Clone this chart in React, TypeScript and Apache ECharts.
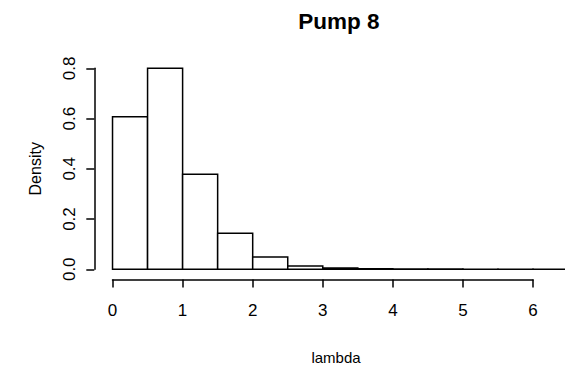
import React, { useEffect, useRef } from "react";
import * as echarts from "echarts";

// Histogram data (bin edges and density per bin)
const breaks = [0, 0.5, 1, 1.5, 2, 2.5, 3, 3.5, 4, 4.5, 5, 5.5, 6, 6.5];
const density = [0.607, 0.8, 0.378, 0.143, 0.049, 0.013, 0.005, 0.002, 0.001, 0.0006, 0.0003, 0.0002, 0.0001];
const xTicks = [0, 1, 2, 3, 4, 5, 6];
const yTicks = [0, 0.2, 0.4, 0.6, 0.8];
const titleText = "Pump 8";
const xLabel = "lambda";
const yLabel = "Density";

const FONT = "'Liberation Sans', Arial, Helvetica, sans-serif";

export default function App() {
  const ref = useRef<HTMLDivElement>(null);
  useEffect(() => {
    document.body.style.margin = "0";
    if (!ref.current) return;
    const chart = echarts.init(ref.current, null, { renderer: "svg" });

    const W = 565;
    // R-style plot region (extends past the right edge of the figure)
    const plotLeft = 94.3;
    const plotTop = 60.3;
    const plotWidth = 492;
    const plotHeight = 217;
    const xMin = breaks[0];
    const xMax = breaks[breaks.length - 1];
    const yMin = 0;
    const yMax = yTicks[yTicks.length - 1];
    const xPad = 0.04 * (xMax - xMin);
    const yPad = 0.04 * (yMax - yMin);
    const xLo = xMin - xPad;
    const xHi = xMax + xPad;
    const yLo = yMin - yPad;
    const yHi = yMax + yPad;
    const pxX = plotWidth / (xHi - xLo);
    const pxY = plotHeight / (yHi - yLo);
    // visible part of the plot region
    const visWidth = W - plotLeft;
    const xVisHi = xLo + visWidth / pxX;
    const x0px = plotLeft + (xTicks[0] - xLo) * pxX;
    const y0px = plotTop + (yHi - yTicks[0]) * pxY;
    const xAxisLineY = 279.5;

    const bins = density.map((d, i) => [breaks[i], breaks[i + 1], d]);

    const axisLabelStyle = { color: "#000", fontSize: 17, fontFamily: FONT };
    const lw = 1.5;

    chart.setOption({
      animation: false,
      grid: [
        { left: plotLeft, top: plotTop, width: visWidth, height: plotHeight },
        {
          left: x0px,
          top: 60,
          width: (xTicks[xTicks.length - 1] - xTicks[0]) * pxX,
          height: xAxisLineY - 60,
        },
        {
          left: plotLeft,
          top: y0px - (yTicks[yTicks.length - 1] - yTicks[0]) * pxY,
          width: 100,
          height: (yTicks[yTicks.length - 1] - yTicks[0]) * pxY,
        },
      ],
      xAxis: [
        { type: "value", gridIndex: 0, min: xLo, max: xVisHi, show: false },
        {
          type: "value",
          gridIndex: 1,
          min: xTicks[0],
          max: xTicks[xTicks.length - 1],
          interval: 1,
          axisLine: { show: true, lineStyle: { color: "#000", width: lw } },
          axisTick: { show: true, length: 8, lineStyle: { color: "#000", width: lw } },
          axisLabel: { ...axisLabelStyle, margin: 22 },
          splitLine: { show: false },
        },
        { type: "value", gridIndex: 2, min: 0, max: 1, show: false },
      ],
      yAxis: [
        { type: "value", gridIndex: 0, min: yLo, max: yHi, show: false },
        { type: "value", gridIndex: 1, min: 0, max: 1, show: false },
        {
          type: "value",
          gridIndex: 2,
          min: yTicks[0],
          max: yTicks[yTicks.length - 1],
          interval: 0.2,
          axisLine: { show: true, lineStyle: { color: "#000", width: lw } },
          axisTick: { show: true, length: 8, lineStyle: { color: "#000", width: lw } },
          axisLabel: {
            ...axisLabelStyle,
            rotate: 90,
            margin: 16,
            formatter: (v: number) => v.toFixed(1),
          },
          splitLine: { show: false },
        },
      ],
      series: [
        {
          type: "custom",
          xAxisIndex: 0,
          yAxisIndex: 0,
          data: bins,
          encode: { x: [0, 1], y: 2 },
          renderItem: (params: any, api: any) => {
            const a = api.value(0);
            const b = api.value(1);
            const v = api.value(2);
            const p0 = api.coord([a, v]);
            const p1 = api.coord([b, 0]);
            return {
              type: "rect",
              shape: { x: p0[0], y: p0[1], width: p1[0] - p0[0], height: p1[1] - p0[1] },
              style: { fill: "#fff", stroke: "#000", lineWidth: lw },
            };
          },
        },
      ],
      graphic: [
        {
          type: "text",
          x: 339,
          y: 21,
          style: {
            text: titleText,
            font: `bold 22.5px ${FONT}`,
            fill: "#000",
            align: "center",
            verticalAlign: "middle",
          },
        },
        {
          type: "text",
          x: 336,
          y: 357,
          style: {
            text: xLabel,
            font: `15px ${FONT}`,
            fill: "#000",
            align: "center",
            verticalAlign: "middle",
          },
        },
        {
          type: "text",
          x: 35,
          y: plotTop + plotHeight / 2,
          rotation: Math.PI / 2,
          style: {
            text: yLabel,
            font: `16px ${FONT}`,
            fill: "#000",
            align: "center",
            verticalAlign: "middle",
          },
        },
      ],
    });
    return () => chart.dispose();
  }, []);
  return <div ref={ref} style={{ width: 565, height: 374 }} />;
}
